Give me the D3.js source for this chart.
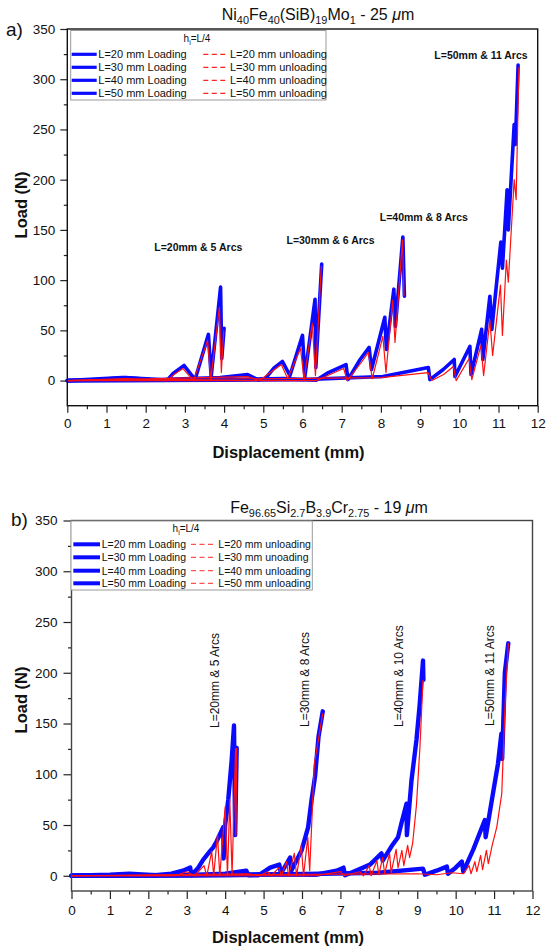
<!DOCTYPE html>
<html>
<head>
<meta charset="utf-8">
<script src="https://cdn.jsdelivr.net/npm/d3@7"></script>
<style>
  body { margin: 0; background: #fff; }
  svg { display: block; }
  text { font-family: "Liberation Sans", Arial, Helvetica, sans-serif; fill: #111; }
</style>
</head>
<body>
<svg id="chart" width="546" height="949"></svg>
<script>
// ---- Data: [displacement (mm), load (N)] ----
// Panel a: Ni40Fe40(SiB)19Mo1, 25 µm
const a20Load = [[0,0],[0.8,1],[1.5,3],[2.1,1],[2.55,0.5],[2.7,7],[2.98,15],[3.26,1],[3.6,46],[3.67,4],[3.91,93],[3.94,22],[4.0,52]];
const a20Unload = [[0,0],[1.5,2],[2.55,0],[2.72,6],[2.95,12],[3.22,0],[3.58,40],[3.66,1],[3.88,73],[3.93,8],[3.99,50]];
const a30Load = [[0,0],[1.4,3],[2.4,1],[3.9,3],[4.6,6],[4.88,0.5],[5.05,2],[5.26,12],[5.49,19],[5.68,5],[6.0,45],[6.06,4],[6.32,81],[6.34,13],[6.49,116]];
const a30Unload = [[0,0],[4.6,4],[4.9,0],[5.25,10],[5.46,16],[5.62,2],[5.95,32],[6.04,1],[6.25,57],[6.33,5],[6.48,114]];
const a40Load = [[0,0],[3,0.5],[5.5,2],[6.36,0.5],[6.66,8],[7.11,16],[7.16,1],[7.47,21],[7.7,33],[7.76,11],[8.1,63],[8.14,31],[8.33,91],[8.37,54],[8.56,143],[8.6,84]];
const a40Unload = [[0,0],[6.36,0],[6.7,6],[7.05,12],[7.14,0],[7.5,18],[7.68,28],[7.78,2],[8.05,44],[8.13,8],[8.3,80],[8.36,38],[8.55,140],[8.59,84]];
const a50Load = [[0,0],[4,0.5],[6.0,1],[8.05,4],[9.21,13],[9.25,1],[9.59,11],[9.87,21],[9.89,4],[10.27,34],[10.3,6],[10.57,51],[10.6,21],[10.78,84],[10.83,51],[11.06,138],[11.1,112],[11.22,190],[11.25,150],[11.4,255],[11.43,235],[11.5,314]];
const a50Unload = [[0,0],[8,3],[9.2,8],[9.3,0],[9.6,6],[9.85,14],[9.92,0],[10.25,22],[10.32,1],[10.55,35],[10.62,5],[10.78,60],[10.85,25],[11.05,95],[11.1,45],[11.2,120],[11.25,98],[11.4,200],[11.45,180],[11.52,312]];

// Panel b: Fe96.65Si2.7B3.9Cr2.75, 19 µm
const b20Load = [[0,0],[1,1],[1.5,2],[2.2,0.5],[2.6,2],[2.9,5],[3.09,8],[3.12,0.5],[3.3,8],[3.43,16],[3.6,24],[3.69,28],[3.78,34],[3.95,48],[3.96,17],[4.0,50],[4.08,75],[4.17,114],[4.23,148],[4.26,40],[4.3,126]];
const b20Unload = [[0,0],[2.7,0],[3.0,4],[3.2,0],[3.45,10],[3.52,0],[3.65,24],[3.7,0],[3.8,40],[3.86,0],[4.0,68],[4.06,0],[4.12,75],[4.18,1],[4.27,125],[4.28,40],[4.3,126]];
const b30Load = [[0,0],[2,0.5],[3.3,1],[4.0,2],[4.55,5],[4.6,0.5],[4.87,0.5],[5.17,8],[5.41,11],[5.45,2],[5.69,18],[5.72,5],[5.99,25],[6.16,48],[6.25,75],[6.34,98],[6.43,137],[6.54,162]];
const b30Unload = [[0,0],[4.6,2],[4.9,0],[5.1,4],[5.2,0],[5.4,8],[5.46,0],[5.6,14],[5.65,0],[5.8,22],[5.86,0],[5.98,30],[6.04,0],[6.15,38],[6.2,5],[6.32,110],[6.43,135],[6.54,160]];
const b40Load = [[0,0],[3,0.5],[5,1.5],[6.36,1],[6.9,5],[7.08,8],[7.12,0.5],[7.4,5],[7.77,11],[8.07,22],[8.1,15],[8.33,29],[8.5,38],[8.59,52],[8.72,71],[8.73,40],[8.85,94],[8.98,134],[9.06,167],[9.15,212],[9.16,193]];
const b40Unload = [[0,0],[6.36,0],[7.0,4],[7.1,0],[7.5,4],[7.6,0],[7.75,10],[7.8,0],[7.95,15],[8.0,1],[8.1,18],[8.15,2],[8.28,22],[8.32,3],[8.45,26],[8.5,8],[8.6,25],[8.65,10],[8.75,30],[8.8,18],[8.88,32],[8.98,70],[9.07,127],[9.15,193]];
const b50Load = [[0,0],[4,0.5],[6.5,2],[8,3],[9.15,7],[9.2,1],[9.5,5],[9.77,9],[9.8,2],[10.0,8],[10.16,14],[10.2,4],[10.46,26],[10.76,55],[10.78,38],[10.97,81],[11.1,110],[11.19,140],[11.21,115],[11.28,200],[11.37,229]];
const b50Unload = [[0,0],[9.0,2],[9.5,1],[9.9,3],[10.2,2],[10.35,10],[10.4,2],[10.5,14],[10.55,4],[10.65,20],[10.7,6],[10.8,25],[10.85,12],[10.95,30],[11.07,48],[11.2,81],[11.28,163],[11.37,229]];

// ---- Labels ----
const spanLengths = ["L=20 mm", "L=30 mm", "L=40 mm", "L=50 mm"];
const loadingLabels = spanLengths.map(s => s + " Loading");
const unloadingLabelsA = spanLengths.map(s => s + " unloading");
const unloadingLabelsB = ["L=20 mm unloading", "L=30 mm unoading", "L=40 mm unloading", "L=50 mm unloading"];
const arcNotesA = ["L=20mm & 5 Arcs", "L=30mm & 6 Arcs", "L=40mm & 8 Arcs", "L=50mm & 11 Arcs"];
const arcNotesB = ["L=20mm & 5 Arcs", "L=30mm & 8 Arcs", "L=40mm & 10 Arcs", "L=50mm & 11 Arcs"];
// title pieces: [text, style] with style 0 = normal, 1 = subscript, 2 = italic
const titleA = [["Ni",0],["40",1],["Fe",0],["40",1],["(SiB)",0],["19",1],["Mo",0],["1",1],[" - 25 ",0],["\u03bc",2],["m",0]];
const titleB = [["Fe",0],["96.65",1],["Si",0],["2.7",1],["B",0],["3.9",1],["Cr",0],["2.75",1],[" - 19 ",0],["\u03bc",2],["m",0]];
const xTickValues = d3.range(0, 13, 1);
const xMinorValues = d3.range(0.5, 12, 1);
const yTickValues = d3.range(0, 351, 50);
const yMinorValues = d3.range(25, 350, 50).concat([-25]);

const BLUE = "#0a0aff";
const RED = "#ff1010";

const svg = d3.select("#chart");

function richText(g, parts, x, y, size, anchor) {
  const t = g.append("text").attr("x", x).attr("y", y)
    .attr("text-anchor", anchor).style("font-size", size + "px");
  let shift = 0;
  parts.forEach(([s, kind]) => {
    const ts = t.append("tspan").text(s);
    const target = kind === 1 ? size * 0.27 : 0;
    if (target !== shift) { ts.attr("dy", target - shift); shift = target; }
    if (kind === 1) ts.style("font-size", (size * 0.68) + "px");
    if (kind === 2) ts.style("font-style", "italic");
  });
  return t;
}

function drawPanel(cfg) {
  const g = svg.append("g");
  const x = d3.scaleLinear().domain([0, 12]).range([cfg.left, cfg.right]);
  const y = d3.scaleLinear().domain([cfg.yMin, 350]).range([cfg.bottom, cfg.top]);

  // minor ticks
  g.append("g").attr("transform", `translate(0,${cfg.bottom})`)
    .call(d3.axisBottom(x).tickValues(xMinorValues).tickSize(3.5).tickFormat(""))
    .call(a => a.select(".domain").remove());
  g.append("g").attr("transform", `translate(${cfg.left},0)`)
    .call(d3.axisLeft(y).tickValues(yMinorValues.filter(v => v > cfg.yMin)).tickSize(3.5).tickFormat(""))
    .call(a => a.select(".domain").remove());

  // major ticks + labels
  const xa = g.append("g").attr("transform", `translate(0,${cfg.bottom})`)
    .call(d3.axisBottom(x).tickValues(xTickValues).tickSize(cfg.tick).tickPadding(cfg.xPad).tickSizeOuter(0));
  const ya = g.append("g").attr("transform", `translate(${cfg.left},0)`)
    .call(d3.axisLeft(y).tickValues(yTickValues).tickSize(cfg.tick).tickPadding(cfg.yPad).tickSizeOuter(0));
  [xa, ya].forEach(a => {
    a.select(".domain").remove();
    a.selectAll("text").style("font-size", "13.5px").style("font-family", "'Liberation Sans', Arial, sans-serif").attr("fill", "#111");
  });
  g.selectAll(".tick line").attr("stroke", "#222").attr("stroke-width", 1.2);

  // curves: loading (thick blue) then unloading (thin red) on top
  const line = d3.line().x(d => x(d[0])).y(d => y(d[1]));
  cfg.loads.forEach(s => g.append("path").attr("d", line(s)).attr("fill", "none")
    .attr("stroke", BLUE).attr("stroke-width", cfg.blueW).attr("stroke-linejoin", "round").attr("stroke-linecap", "round"));
  cfg.unloads.forEach(s => g.append("path").attr("d", line(s)).attr("fill", "none")
    .attr("stroke", RED).attr("stroke-width", 1.2).attr("stroke-linejoin", "round"));

  // frame
  g.append("rect").attr("x", cfg.left).attr("y", cfg.top)
    .attr("width", cfg.right - cfg.left).attr("height", cfg.bottom - cfg.top)
    .attr("fill", "none").attr("stroke", cfg.frame).attr("stroke-width", 1.4);

  // axis titles
  g.append("text").attr("x", (cfg.left + cfg.right) / 2 - 14).attr("y", cfg.xTitleY)
    .attr("text-anchor", "middle").style("font-size", "16.5px").style("font-weight", "bold")
    .text("Displacement (mm)");
  g.append("text").attr("transform", `translate(${cfg.yTitleX},${cfg.yTitleY}) rotate(-90)`)
    .attr("text-anchor", "middle").style("font-size", "16.5px").style("font-weight", "bold")
    .text("Load (N)");

  // panel letter + title
  g.append("text").attr("x", cfg.letterX).attr("y", cfg.letterY)
    .style("font-size", "19px").text(cfg.letter);
  richText(g, cfg.title, cfg.titleX, cfg.titleY, 16, "middle");

  // legend
  const L = cfg.legend;
  g.append("rect").attr("x", L.x0).attr("y", L.y0).attr("width", L.x1 - L.x0).attr("height", L.y1 - L.y0)
    .attr("fill", "#fff").attr("stroke", "#9a9a9a").attr("stroke-width", 1);
  const hdr = g.append("text").attr("x", L.hx).attr("y", L.hy).attr("text-anchor", "middle").style("font-size", "10px");
  hdr.append("tspan").text("h");
  hdr.append("tspan").text("i").attr("dy", 2.5).style("font-size", "7px");
  hdr.append("tspan").text("=L/4").attr("dy", -2.5);
  L.rows.forEach((ry, i) => {
    g.append("line").attr("x1", L.bx0).attr("x2", L.bx1).attr("y1", ry).attr("y2", ry)
      .attr("stroke", BLUE).attr("stroke-width", L.bw);
    g.append("text").attr("x", L.btx).attr("y", ry + 4).style("font-size", L.fs + "px").text(loadingLabels[i]);
    g.append("line").attr("x1", L.rx0).attr("x2", L.rx1).attr("y1", ry).attr("y2", ry)
      .attr("stroke", L.dashColor).attr("stroke-width", 1.2).attr("stroke-dasharray", "5,3.5");
    g.append("text").attr("x", L.rtx).attr("y", ry + 4).style("font-size", L.fs + "px").text(cfg.unloadLabels[i]);
  });

  // arc annotations
  cfg.notes.forEach((txt, i) => {
    const n = cfg.notePos[i];
    if (cfg.rotated) {
      g.append("text").attr("transform", `translate(${n[0]},${n[1]}) rotate(-90)`)
        .attr("dy", "0.35em").style("font-size", "12px").text(txt);
    } else {
      g.append("text").attr("x", n[0]).attr("y", n[1]).attr("text-anchor", "middle")
        .style("font-size", "10.5px").style("font-weight", "bold").text(txt);
    }
  });
}

drawPanel({
  left: 67.3, right: 537.7, top: 29, bottom: 405.7, yMin: -25,
  tick: 7, xPad: 5.5, yPad: 5, blueW: 3.6, frame: "#111",
  xTitleY: 458, yTitleX: 27, yTitleY: 205,
  letter: "a)", letterX: 6, letterY: 36,
  title: titleA, titleX: 318, titleY: 20,
  loads: [a20Load, a30Load, a40Load, a50Load],
  unloads: [a20Unload, a30Unload, a40Unload, a50Unload],
  unloadLabels: unloadingLabelsA,
  legend: { x0: 70.7, x1: 326, y0: 30.5, y1: 100, hx: 197, hy: 42,
            rows: [54.3, 67.3, 80.3, 93.3], bx0: 71.7, bx1: 96.7, btx: 98.3,
            rx0: 203.3, rx1: 226, rtx: 230, bw: 3.2, fs: 11, dashColor: "#ff2020" },
  notes: arcNotesA,
  notePos: [[198.3, 251], [330.5, 244], [423.8, 221], [481, 59]],
  rotated: false
});

drawPanel({
  left: 71.5, right: 532.5, top: 520.5, bottom: 891, yMin: -15,
  tick: 8, xPad: 6.5, yPad: 6, blueW: 4.4, frame: "#444",
  xTitleY: 943, yTitleX: 27, yTitleY: 700,
  letter: "b)", letterX: 11, letterY: 526,
  title: titleB, titleX: 329, titleY: 513,
  loads: [b20Load, b30Load, b40Load, b50Load],
  unloads: [b20Unload, b30Unload, b40Unload, b50Unload],
  unloadLabels: unloadingLabelsB,
  legend: { x0: 71, x1: 312.3, y0: 521, y1: 590, hx: 186, hy: 532,
            rows: [544.3, 557.3, 570.7, 583.3], bx0: 73.3, bx1: 100, btx: 101.7,
            rx0: 191, rx1: 214, rtx: 218.3, bw: 4, fs: 10.5, dashColor: "#ff5050" },
  notes: arcNotesB,
  notePos: [[214.3, 728], [305, 727], [398.3, 727], [489.3, 726]],
  rotated: true
});
</script>
</body>
</html>
